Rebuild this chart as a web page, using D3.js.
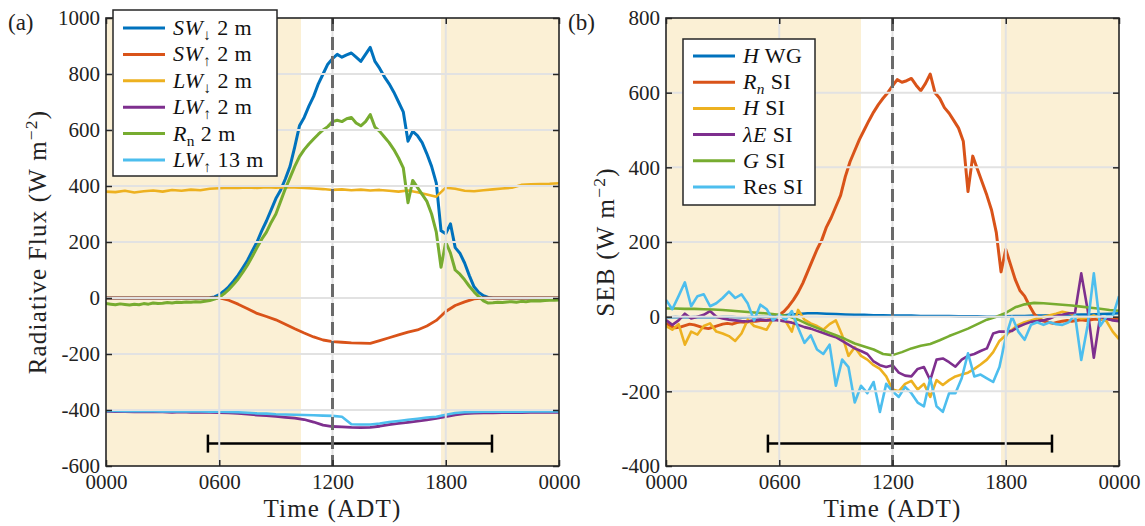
<!DOCTYPE html>
<html><head><meta charset="utf-8">
<script src="https://cdn.jsdelivr.net/npm/d3@7"></script>
<style>body{margin:0;background:#fff}</style>
</head><body><svg id="c" width="1145" height="526"></svg>
<script>
// ---------- data ----------
const hourTicks = [0, 6, 12, 18, 24];
const hourLabels = ["0000", "0600", "1200", "1800", "0000"];
const t15 = d3.range(0, 24.001, 0.25);   // 97 samples
const t20 = d3.range(0, 73).map(i => i / 3); // 73 samples
const t30 = d3.range(0, 24.001, 0.5);    // 49 samples

const shadeIntervals = [[0, 10.33], [17.75, 24]];
const noonHour = 12;
const sunBar = [5.4, 20.45];
const barValueA = -520;
const barValueB = -340;

// Panel (a) radiative fluxes
const swDown2 = [0,0,0,0,0,0,0,0,0,0,0,0,0,0,0,0,0,0,0,0,0,0,
  1,4,12,25,40,60,82,108,135,168,200,240,275,315,355,385,425,470,540,615,
  645,685,720,765,800,835,855,870,860,868,875,860,845,870,895,845,820,790,765,735,
  700,665,560,595,580,555,515,470,410,240,230,265,180,160,125,80,40,20,8,2,
  0,0,0,0,0,0,0,0,0,0,0,0,0,0,0];
const rn2 = [-20,-22,-24,-21,-23,-25,-22,-24,-20,-22,-18,-20,-19,-16,-18,-15,-16,-14,-15,-13,-14,-12,
  -9,-4,3,15,30,48,68,92,118,148,180,210,235,270,300,345,390,430,470,505,
  530,550,568,585,600,612,630,635,630,640,645,625,615,630,655,610,595,575,555,530,
  500,465,340,420,395,370,345,300,235,110,200,160,100,85,65,42,22,5,-10,-18,
  -17,-15,-16,-14,-13,-15,-12,-13,-11,-10,-11,-9,-8,-8,-7];
const lwDown2 = [380,378,383,377,381,384,380,386,383,387,385,390,392,394,393,395,393,396,394,396,
  395,393,391,389,386,388,385,387,384,386,383,380,384,378,370,362,394,390,383,381,
  385,388,391,394,404,406,407,408,410];
const swUp2 = [0,0,0,0,0,0,0,0,0,0,0,0,
  0,-8,-22,-38,-55,-66,-78,-94,-110,-125,-139,-150,-156,-158,-160,-161,-162,-152,
  -142,-132,-122,-114,-100,-80,-48,-27,-14,-3,
  0,0,0,0,0,0,0,0,0];
const lwUp2 = [-405,-406,-406,-407,-406,-407,-407,-408,-407,-408,-408,-408,
  -409,-410,-412,-415,-418,-420,-423,-426,-429,-434,-443,-454,-459,-460,-462,-463,-462,-458,
  -452,-448,-444,-440,-435,-430,-424,-417,-413,-411,
  -410,-410,-409,-409,-409,-408,-408,-408,-408];
const lwUp13 = [-403,-403,-404,-404,-404,-404,-405,-405,-405,-405,-405,-406,
  -406,-407,-408,-410,-412,-413,-415,-416,-417,-418,-419,-420,-421,-424,-451,-452,-452,-448,
  -443,-439,-435,-431,-427,-424,-417,-411,-408,-407,
  -406,-406,-406,-406,-406,-405,-405,-405,-405];

// Panel (b) surface energy balance
const hWG = [-2,-1,-2,-1,-2,-2,-1,-1,-2,-1,-1,0,
  2,5,7,9,9,8,7,6,5,5,4,4,3,3,3,2,2,2,2,1,1,1,0,0,1,2,2,3,
  3,4,4,5,6,6,7,8,9];
const rnSI = [-18,-25,-30,-28,-24,-20,-22,-26,-30,-32,-28,-24,-20,-18,-20,-16,-14,-15,-12,-12,-10,-10,
  -8,-4,5,14,28,45,65,90,120,150,180,205,240,265,295,325,375,415,445,475,
  500,525,548,568,585,600,618,635,628,632,638,620,605,625,650,600,585,560,545,525,
  505,470,335,430,395,360,325,285,225,120,180,140,100,70,55,30,8,-5,-12,-15,
  -18,-15,-12,-10,-12,-10,-8,-10,-8,-6,-8,-5,-7,-5,-4];
const hSI = [-25,-35,-20,-75,-40,-48,-25,-18,-40,-45,-52,-65,-45,-8,-25,-30,-35,-5,-10,-12,
  -40,18,-8,-18,-25,-35,-20,-10,-50,-105,-82,-105,-115,-130,-140,-160,-195,-200,-180,-172,
  -195,-180,-215,-170,-183,-170,-160,-155,-150,-140,-128,-115,-95,-65,-50,-35,-22,-15,-10,-5,
  0,4,8,13,10,2,-5,-3,3,-5,-12,-40,-60];
const leSI = [-9,-22,-10,8,-5,0,5,15,0,-5,-8,-10,-12,-13,-10,-8,-10,-9,-10,-13,
  -16,-22,-28,-32,-38,-44,-50,-55,-65,-75,-85,-92,-100,-120,-130,-135,-130,-150,-158,-160,
  -140,-135,-170,-115,-112,-122,-134,-115,-105,-100,-92,-85,-45,-40,-40,-38,-27,-20,-14,-12,
  -10,-5,2,5,9,10,116,20,-110,0,-5,-10,-12];
const gSI = [22,22,21,21,20,19,18,16,14,12,10,8,5,1,-8,-20,-30,-40,-50,-60,
  -72,-80,-88,-100,-103,-95,-85,-78,-73,-63,-52,-42,-32,-20,-8,0,10,25,33,37,
  36,34,32,30,27,24,21,18,16];
const resSI = [45,20,55,92,28,55,60,28,36,50,67,50,60,35,-10,32,20,-10,5,-8,
  15,-30,-70,-50,-88,-100,-75,-185,-115,-135,-230,-185,-205,-175,-255,-180,-200,-215,-188,-205,
  -230,-240,-165,-240,-255,-205,-205,-165,-98,-160,-155,-165,-175,-135,-55,0,-40,-62,-22,-15,
  -22,-15,-20,-22,-15,5,-116,-25,116,-25,0,0,55];

const colors = ["#0072BD", "#D95319", "#EDB120", "#7E2F8E", "#77AC30", "#4DBEEE"];

const seriesA = [
  {t: t15, v: swDown2, w: 3.0, label: [{t:"SW", i:1}, {t:"↓", sub:1}, {t:" 2 m"}]},
  {t: t30, v: swUp2,   w: 2.8, label: [{t:"SW", i:1}, {t:"↑", sub:1}, {t:" 2 m"}]},
  {t: t30, v: lwDown2, w: 2.6, label: [{t:"LW", i:1}, {t:"↓", sub:1}, {t:" 2 m"}]},
  {t: t30, v: lwUp2,   w: 2.8, label: [{t:"LW", i:1}, {t:"↑", sub:1}, {t:" 2 m"}]},
  {t: t15, v: rn2,     w: 3.0, label: [{t:"R", i:1}, {t:"n", sub:1}, {t:" 2 m"}]},
  {t: t30, v: lwUp13,  w: 2.6, label: [{t:"LW", i:1}, {t:"↑", sub:1}, {t:" 13 m"}]}
];
const seriesB = [
  {t: t30, v: hWG,   w: 2.4, label: [{t:"H", i:1}, {t:" WG"}]},
  {t: t15, v: rnSI,  w: 3.0, label: [{t:"R", i:1}, {t:"n", sub:1, i:1}, {t:" SI"}]},
  {t: t20, v: hSI,   w: 2.6, label: [{t:"H", i:1}, {t:" SI"}]},
  {t: t20, v: leSI,  w: 2.6, label: [{t:"λE", i:1}, {t:" SI"}]},
  {t: t30, v: gSI,   w: 2.6, label: [{t:"G", i:1}, {t:" SI"}]},
  {t: t20, v: resSI, w: 2.6, label: [{t:"Res SI"}]}
];

// ---------- drawing ----------
const FONT = "'Liberation Serif', 'Times New Roman', serif";
const svg = d3.select("#c");

function rich(sel, segs) {
  let shift = 0;
  segs.forEach(s => {
    const target = s.sub ? 5 : (s.sup ? -9 : 0);
    const ts = sel.append("tspan").text(s.t);
    if (s.i) ts.attr("font-style", "italic");
    if (s.sub || s.sup) ts.attr("font-size", "70%");
    if (target !== shift) ts.attr("dy", target - shift);
    shift = target;
  });
}

function panel(cfg) {
  const x = d3.scaleLinear().domain([0, 24]).range([cfg.x0, cfg.x1]);
  const y = d3.scaleLinear().domain(cfg.yDomain).range([466, 18]);
  const g = svg.append("g");
  const id = "clip" + cfg.name;
  svg.append("clipPath").attr("id", id).append("rect")
    .attr("x", cfg.x0).attr("y", 18).attr("width", cfg.x1 - cfg.x0).attr("height", 448);

  g.append("rect").attr("x", cfg.x0).attr("y", 18).attr("width", cfg.x1 - cfg.x0).attr("height", 448).attr("fill", "#fff");
  g.selectAll(".shade").data(shadeIntervals).join("rect")
    .attr("x", d => x(d[0])).attr("width", d => x(d[1]) - x(d[0]))
    .attr("y", 18).attr("height", 448).attr("fill", "#fbf0d5");

  const dg = g.append("g").attr("clip-path", `url(#${id})`);
  cfg.series.forEach((s, k) => {
    const line = d3.line().x((d, i) => x(s.t[i])).y(d => y(d));
    dg.append("path").attr("d", line(s.v)).attr("fill", "none")
      .attr("stroke", colors[k]).attr("stroke-width", s.w).attr("stroke-linejoin", "round");
  });

  // sunrise-sunset bar
  const by = y(cfg.barValue);
  dg.append("line").attr("x1", x(sunBar[0])).attr("x2", x(sunBar[1])).attr("y1", by).attr("y2", by)
    .attr("stroke", "#000").attr("stroke-width", 2.5);
  sunBar.forEach(h => dg.append("line").attr("x1", x(h)).attr("x2", x(h)).attr("y1", by - 9).attr("y2", by + 9)
    .attr("stroke", "#000").attr("stroke-width", 2.5));

  // vertical grid, then noon dashed line, then horizontal grid
  const gv = g.append("g").attr("stroke", "#e2e2e2").attr("stroke-width", 2);
  hourTicks.slice(1, -1).forEach(h => gv.append("line").attr("x1", x(h)).attr("x2", x(h)).attr("y1", 18).attr("y2", 466));
  g.append("line").attr("x1", x(noonHour)).attr("x2", x(noonHour)).attr("y1", 18).attr("y2", 466)
    .attr("stroke", "#6a6a6a").attr("stroke-width", 3).attr("stroke-dasharray", "13,6");
  const gh = g.append("g").attr("stroke", "#e2e2e2").attr("stroke-width", 2);
  cfg.yTicks.slice(1, -1).forEach(v => gh.append("line").attr("x1", cfg.x0).attr("x2", cfg.x1).attr("y1", y(v)).attr("y2", y(v)));

  // axes
  const styleAxis = a => {
    a.select(".domain").remove();
    a.selectAll(".tick line").attr("stroke", "#262626").attr("stroke-width", 1.5);
    a.attr("font-family", FONT).attr("font-size", 21);
    a.selectAll(".tick text").attr("fill", "#222");
  };
  g.append("g").attr("transform", "translate(0,466)")
    .call(d3.axisBottom(x).tickValues(hourTicks).tickFormat((d, i) => hourLabels[i]).tickSize(-6).tickPadding(8)).call(styleAxis);
  g.append("g").attr("transform", "translate(0,18)")
    .call(d3.axisTop(x).tickValues(hourTicks).tickFormat("").tickSize(-6)).call(styleAxis);
  g.append("g").attr("transform", `translate(${cfg.x0},0)`)
    .call(d3.axisLeft(y).tickValues(cfg.yTicks).tickFormat(d => String(d)).tickSize(-6).tickPadding(6)).call(styleAxis);
  g.append("g").attr("transform", `translate(${cfg.x1},0)`)
    .call(d3.axisRight(y).tickValues(cfg.yTicks).tickFormat("").tickSize(-6)).call(styleAxis);
  g.append("rect").attr("x", cfg.x0).attr("y", 18).attr("width", cfg.x1 - cfg.x0).attr("height", 448)
    .attr("fill", "none").attr("stroke", "#262626").attr("stroke-width", 1.6);

  // titles
  g.append("text").attr("x", (cfg.x0 + cfg.x1) / 2).attr("y", 517).attr("text-anchor", "middle")
    .attr("font-family", FONT).attr("font-size", 25).attr("letter-spacing", 1.2).attr("fill", "#222").text("Time (ADT)");
  const yt = g.append("text").attr("transform", `translate(${cfg.yTitleX},242) rotate(-90)`).attr("text-anchor", "middle")
    .attr("font-family", FONT).attr("font-size", 25).attr("letter-spacing", 1.2).attr("fill", "#222");
  rich(yt, cfg.yTitle);
  g.append("text").attr("x", cfg.tagX).attr("y", 30).attr("font-family", FONT).attr("font-size", 23).attr("fill", "#222").text(cfg.tag);

  // legend
  const L = cfg.legend;
  g.append("rect").attr("x", L.x).attr("y", L.y).attr("width", L.w).attr("height", L.h)
    .attr("fill", "#fff").attr("stroke", "#262626").attr("stroke-width", 1.5);
  cfg.series.forEach((s, k) => {
    const ry = L.row0 + k * L.step;
    g.append("line").attr("x1", L.x + 10).attr("x2", L.x + 52).attr("y1", ry).attr("y2", ry)
      .attr("stroke", colors[k]).attr("stroke-width", 3);
    const tx = g.append("text").attr("x", L.x + 60).attr("y", ry + 7)
      .attr("font-family", FONT).attr("font-size", 22).attr("letter-spacing", 0.4).attr("fill", "#111");
    rich(tx, s.label);
  });
}

panel({
  name: "A", x0: 106, x1: 559, yDomain: [-600, 1000], yTicks: d3.range(-600, 1001, 200),
  series: seriesA, barValue: barValueA, yTitleX: 46, tag: "(a)", tagX: 8,
  yTitle: [{t:"Radiative Flux (W m"}, {t:"−2", sup:1}, {t:")"}],
  legend: {x: 113, y: 10, w: 164, h: 166, row0: 28, step: 26.4}
});
panel({
  name: "B", x0: 666, x1: 1119, yDomain: [-400, 800], yTicks: d3.range(-400, 801, 200),
  series: seriesB, barValue: barValueB, yTitleX: 614, tag: "(b)", tagX: 568,
  yTitle: [{t:"SEB (W m"}, {t:"−2", sup:1}, {t:")"}],
  legend: {x: 683, y: 39, w: 132, h: 166, row0: 56, step: 26.2}
});
</script></body></html>
